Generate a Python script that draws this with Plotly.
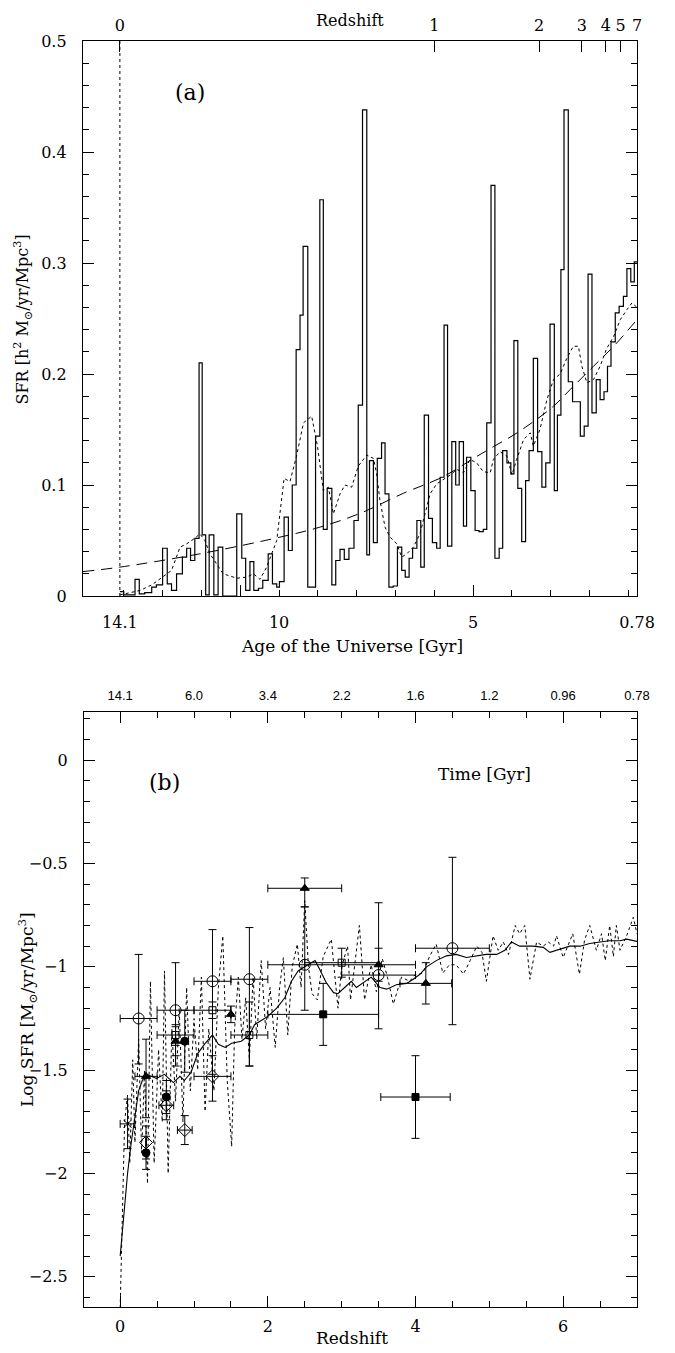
import plotly.graph_objects as go

# page is 675x1353; the browser body adds an 8 px margin, so the figure is 8 px smaller
PAGE_W, PAGE_H = 675, 1353
OFF = 8
W, H = PAGE_W - OFF, PAGE_H - OFF
SERIF = "DejaVu Serif"
SANS = "Liberation Sans"

# ---------------- Panel (a) data ----------------
now_age = 14.1
age_range = [15.05, 0.78]

hist_age_edges = [14.10, 14.00, 13.71, 13.60, 13.46, 13.28, 13.16, 13.00, 12.88, 12.77,
                  12.64, 12.49, 12.38, 12.28, 12.17, 12.06, 11.98, 11.89, 11.80, 11.68,
                  11.57, 11.45, 11.09, 10.96, 10.86, 10.75, 10.65, 10.53, 10.42, 10.28,
                  10.17, 10.06, 9.99, 9.87, 9.76, 9.66, 9.56, 9.46, 9.38, 9.26,
                  9.06, 8.95, 8.86, 8.76, 8.64, 8.54, 8.43, 8.32, 8.20, 8.07,
                  7.96, 7.85, 7.74, 7.67, 7.57, 7.47, 7.36, 7.27, 7.17, 7.06,
                  6.95, 6.84, 6.75, 6.65, 6.56, 6.45, 6.35, 6.26, 6.15, 6.05,
                  5.94, 5.85, 5.75, 5.66, 5.55, 5.45, 5.36, 5.25, 5.17, 5.06,
                  4.95, 4.85, 4.74, 4.65, 4.54, 4.44, 4.33, 4.24, 4.13, 4.03,
                  3.95, 3.85, 3.75, 3.65, 3.56, 3.45, 3.34, 3.23, 3.13, 3.02,
                  2.91, 2.83, 2.74, 2.66, 2.55, 2.44, 2.24, 2.14, 2.04, 1.94,
                  1.83, 1.73, 1.63, 1.54, 1.45, 1.34, 1.24, 1.13, 1.04, 0.94,
                  0.85, 0.78]
hist_sfr = [0.004, 0.001, 0.015, 0.002, 0.003, 0.008, 0.010, 0.043, 0.011, 0.005,
            0.020, 0.035, 0.043, 0.032, 0.052, 0.210, 0.055, 0.001, 0.055, 0.001,
            0.044, 0.000, 0.074, 0.034, 0.005, 0.031, 0.005, 0.007, 0.014, 0.038,
            0.011, 0.008, 0.013, 0.071, 0.041, 0.100, 0.222, 0.253, 0.315, 0.008,
            0.144, 0.357, 0.060, 0.097, 0.010, 0.032, 0.042, 0.033, 0.043, 0.068,
            0.172, 0.438, 0.037, 0.122, 0.048, 0.124, 0.138, 0.092, 0.008, 0.009,
            0.044, 0.023, 0.017, 0.034, 0.043, 0.068, 0.026, 0.163, 0.070, 0.048,
            0.043, 0.107, 0.244, 0.045, 0.139, 0.100, 0.139, 0.063, 0.125, 0.095,
            0.059, 0.058, 0.060, 0.156, 0.370, 0.034, 0.043, 0.131, 0.120, 0.110,
            0.230, 0.097, 0.049, 0.104, 0.131, 0.214, 0.130, 0.098, 0.120, 0.245,
            0.095, 0.163, 0.294, 0.438, 0.193, 0.175, 0.144, 0.153, 0.290, 0.165,
            0.195, 0.177, 0.184, 0.207, 0.229, 0.255, 0.261, 0.270, 0.295, 0.283,
            0.301, 0.301]

smooth_age = [14.1, 13.58, 13.28, 13.0, 12.77, 12.55, 12.38, 12.17, 12.04, 11.91,
              11.78, 11.61, 11.44, 11.09, 10.84, 10.66, 10.49, 10.32, 10.06, 9.87,
              9.72, 9.55, 9.37, 9.16, 9.01, 8.86, 8.73, 8.6, 8.43, 8.3,
              8.13, 7.96, 7.74, 7.57, 7.49, 7.4, 7.27, 7.14, 6.97, 6.84,
              6.71, 6.54, 6.37, 6.24, 6.11, 5.94, 5.77, 5.59, 5.42, 5.25,
              5.08, 4.91, 4.74, 4.56, 4.48, 4.31, 4.13, 4.0, 3.88, 3.7,
              3.53, 3.45, 3.28, 3.1, 2.93, 2.76, 2.59, 2.42, 2.29, 2.2,
              2.07, 1.9, 1.73, 1.56, 1.38, 1.21, 1.04, 0.91, 0.78]
smooth_sfr = [0.001, 0.005, 0.010, 0.017, 0.023, 0.044, 0.047, 0.052, 0.056, 0.050,
              0.038, 0.029, 0.020, 0.016, 0.017, 0.020, 0.015, 0.026, 0.050, 0.106,
              0.103, 0.126, 0.156, 0.162, 0.135, 0.095, 0.098, 0.074, 0.092, 0.100,
              0.098, 0.117, 0.127, 0.124, 0.111, 0.086, 0.062, 0.053, 0.047, 0.035,
              0.038, 0.044, 0.056, 0.074, 0.092, 0.101, 0.105, 0.109, 0.114, 0.111,
              0.123, 0.120, 0.112, 0.111, 0.123, 0.130, 0.126, 0.109, 0.123, 0.141,
              0.147, 0.135, 0.150, 0.177, 0.195, 0.200, 0.214, 0.225, 0.225, 0.207,
              0.192, 0.195, 0.207, 0.223, 0.234, 0.249, 0.258, 0.264, 0.260]

fit_age = [15.05, 14.1, 12.04, 9.98, 8.95, 7.91, 6.80, 5.77, 4.99, 4.48,
           3.96, 3.45, 2.93, 2.50, 1.90, 1.38, 0.78]
fit_sfr = [0.022, 0.026, 0.038, 0.053, 0.062, 0.0745, 0.0925, 0.1075, 0.124, 0.1345,
           0.145, 0.157, 0.171, 0.186, 0.207, 0.225, 0.249]

age_tick_labels = [14.1, 10, 5, 0.78]
age_minor_ticks = [14, 13, 12, 10, 9, 8, 7, 6, 4, 3, 2, 1]
age_major_ticks = [11, 5]
z_tick_ages = [14.1, 6.0, 3.3, 2.2, 1.58, 1.2, 0.78]
z_tick_text = ["0", "1", "2", "3", "4", "5", "7"]

# ---------------- Panel (b) data ----------------
z_range = [-0.49, 7.0]
logsfr_range = [-2.646, 0.233]

sim_raw_z = [0.0, 0.03, 0.06, 0.1, 0.13, 0.17, 0.2, 0.25, 0.29, 0.33, 0.37, 0.41, 0.46, 0.52,
             0.57, 0.6, 0.65, 0.7, 0.75, 0.8, 0.85, 0.9, 0.95, 1.0, 1.05, 1.1, 1.15, 1.2,
             1.27, 1.33, 1.39, 1.45, 1.51, 1.55, 1.6, 1.65, 1.7, 1.75, 1.8, 1.85, 1.91,
             1.97, 2.03, 2.1, 2.16, 2.21, 2.27, 2.33, 2.4, 2.45, 2.5, 2.55, 2.6, 2.67,
             2.75, 2.86, 2.95, 3.0, 3.08, 3.12, 3.24, 3.31, 3.4, 3.47, 3.55, 3.62, 3.7,
             3.81, 3.92, 3.99, 4.1, 4.19, 4.28, 4.37, 4.46, 4.55, 4.65, 4.74, 4.83, 4.9,
             4.96, 5.05, 5.12, 5.19, 5.26, 5.35, 5.41, 5.48, 5.55, 5.64, 5.73, 5.8, 5.87,
             5.91, 6.0, 6.13, 6.22, 6.29, 6.36, 6.45, 6.52, 6.57, 6.63, 6.68, 6.72, 6.77,
             6.86, 6.95, 7.0]
sim_raw_v = [-2.65, -2.2, -1.75, -1.62, -1.95, -1.45, -1.85, -1.35, -1.9, -1.5, -2.05, -1.07,
             -1.95, -1.4, -1.75, -1.02, -2.0, -1.3, -1.65, -1.2, -1.75, -1.1, -1.6, -1.25,
             -1.5, -1.05, -1.7, -1.3, -1.6, -1.1, -0.85, -1.55, -1.87, -1.3, -1.05, -1.35,
             -1.15, -1.45, -1.05, -1.35, -0.97, -1.3, -1.1, -1.39, -1.1, -0.955, -1.33, -1.0,
             -0.89, -1.1, -0.68, -1.0, -1.13, -1.16, -0.95, -0.866, -1.2, -1.0, -0.9, -1.16,
             -0.80, -1.16, -0.99, -1.12, -0.96, -1.05, -1.18, -1.05, -1.07, -1.04, -1.03,
             -0.95, -0.89, -1.03, -0.99, -0.99, -1.035, -0.97, -0.9, -0.93, -1.07, -0.85,
             -0.92, -0.88, -0.94, -0.80, -0.84, -0.80, -1.06, -0.88, -0.9, -0.88, -0.9,
             -0.85, -0.955, -0.84, -1.036, -0.87, -0.80, -0.92, -0.84, -0.97, -0.80, -0.95,
             -0.80, -0.92, -0.85, -0.76, -0.84]

sim_smooth_z = [0.0, 0.05, 0.1, 0.15, 0.2, 0.25, 0.3, 0.35, 0.42, 0.49, 0.6, 0.72, 0.81, 0.87,
                0.96, 1.05, 1.14, 1.25, 1.33, 1.42, 1.51, 1.64, 1.75, 1.82, 1.91, 2.0, 2.12,
                2.23, 2.32, 2.41, 2.52, 2.64, 2.7, 2.79, 2.89, 2.95, 3.04, 3.13, 3.2, 3.29,
                3.4, 3.52, 3.61, 3.74, 3.88, 3.97, 4.06, 4.15, 4.28, 4.42, 4.55, 4.69, 4.82,
                4.96, 5.1, 5.21, 5.3, 5.41, 5.59, 5.73, 5.82, 5.96, 6.09, 6.23, 6.36, 6.5,
                6.63, 6.77, 6.86, 7.0]
sim_smooth_v = [-2.4, -2.2, -2.0, -1.85, -1.72, -1.6, -1.55, -1.52, -1.53, -1.54, -1.52, -1.56,
                -1.53, -1.55, -1.51, -1.42, -1.375, -1.33, -1.375, -1.39, -1.37, -1.36, -1.33,
                -1.28, -1.26, -1.24, -1.2, -1.15, -1.07, -1.02, -0.995, -0.97, -1.01, -1.076,
                -1.125, -1.13, -1.1, -1.07, -1.1, -1.076, -1.05, -1.1, -1.108, -1.087, -1.08,
                -1.06, -1.036, -1.0, -0.97, -0.947, -0.94, -0.955, -0.947, -0.94, -0.94, -0.92,
                -0.88, -0.9, -0.9, -0.906, -0.93, -0.914, -0.9, -0.9, -0.887, -0.88, -0.874,
                -0.874, -0.866, -0.877]

# observational points: z, logSFR, +err, -err, z-halfwidth
circ_z = [0.25, 0.75, 1.25, 1.75, 2.5, 3.5, 4.5]
circ_v = [-1.25, -1.21, -1.07, -1.06, -0.99, -1.04, -0.91]
circ_up = [0.31, 0.23, 0.25, 0.25, 0.28, 0.35, 0.44]
circ_dn = [0.22, 0.27, 0.45, 0.42, 0.22, 0.26, 0.37]
circ_dz = [0.25, 0.25, 0.25, 0.25, 0.5, 0.5, 0.5]

tri_z = [0.35, 0.75, 1.5, 2.5, 3.5, 4.14]
tri_v = [-1.53, -1.36, -1.23, -0.62, -0.99, -1.08]
tri_up = [0.18, 0.07, 0.04, 0.05, 0.08, 0.10]
tri_dn = [0.2, 0.07, 0.04, 0.09, 0.08, 0.10]
tri_dz = [0.15, 0.0, 0.0, 0.5, 0.5, 0.35]

osq_z = [0.75, 1.25, 1.75, 3.0]
osq_v = [-1.33, -1.21, -1.33, -0.98]
osq_up = [0.05, 0.04, 0.16, 0.07]
osq_dn = [0.05, 0.04, 0.15, 0.07]
osq_dz = [0.25, 0.25, 0.25, 0.5]

fsq_z = [2.75, 4.0]
fsq_v = [-1.23, -1.63]
fsq_up = [0.15, 0.2]
fsq_dn = [0.15, 0.2]
fsq_dz = [0.75, 0.47]

fcirc_z = [0.35, 0.625, 0.875]
fcirc_v = [-1.90, -1.63, -1.36]
fcirc_up = [0.08, 0.08, 0.15]
fcirc_dn = [0.08, 0.08, 0.15]

dia_z = [0.35, 0.625, 0.875, 1.25]
dia_v = [-1.85, -1.67, -1.79, -1.53]
dia_up = [0.08, 0.07, 0.07, 0.10]
dia_dn = [0.08, 0.07, 0.07, 0.12]
dia_dz = [0.0, 0.1, 0.1, 0.25]

cross_z = [0.1]
cross_v = [-1.76]
cross_up = [0.12]
cross_dn = [0.12]
cross_dz = [0.1]

time_tick_z = [0, 1, 2, 3, 4, 5, 6, 7]
time_tick_text = ["14.1", "6.0", "3.4", "2.2", "1.6", "1.2", "0.96", "0.78"]

# ---------------- layout geometry (page pixels -> paper fractions) ----------------
def fx(px):
    return (px - OFF) / W

def fy(py):
    return 1 - (py - OFF) / H

A_X = [fx(83), fx(637)]
A_Y = [fy(596), fy(41)]
B_X = [fx(84), fx(637)]
B_Y = [fy(1307), fy(712)]

fig = go.Figure()
K = "black"

# Panel (a)
fig.add_trace(go.Scatter(x=[now_age, now_age], y=[0, 0.5], mode="lines",
                         line=dict(color=K, width=1, dash="dot"), xaxis="x", yaxis="y"))
fig.add_trace(go.Scatter(x=fit_age, y=fit_sfr, mode="lines", line_shape="spline",
                         line=dict(color=K, width=1, dash="11px,7px"), xaxis="x", yaxis="y"))
fig.add_trace(go.Scatter(x=smooth_age, y=smooth_sfr, mode="lines",
                         line=dict(color=K, width=1, dash="dot"), xaxis="x", yaxis="y"))
fig.add_trace(go.Scatter(x=hist_age_edges, y=hist_sfr, mode="lines", line_shape="hv",
                         line=dict(color=K, width=1.2), xaxis="x", yaxis="y"))
# invisible anchors so the overlay axes are drawn
for ax in ["x2", "x3", "x4"]:
    fig.add_trace(go.Scatter(x=[now_age], y=[0], mode="markers", marker=dict(opacity=0),
                             hoverinfo="skip", xaxis=ax, yaxis="y"))

# Panel (b)
fig.add_trace(go.Scatter(x=sim_raw_z, y=sim_raw_v, mode="lines",
                         line=dict(color=K, width=1, dash="dot"), xaxis="x5", yaxis="y2"))
fig.add_trace(go.Scatter(x=sim_smooth_z, y=sim_smooth_v, mode="lines",
                         line=dict(color=K, width=1.1), xaxis="x5", yaxis="y2"))


def pts(z, v, up, dn, dz, symbol, size):
    ex = dict(type="data", array=dz, color=K, thickness=1, width=4) if dz is not None else None
    fig.add_trace(go.Scatter(
        x=z, y=v, mode="markers",
        marker=dict(symbol=symbol, size=size, color=K, line=dict(color=K, width=1)),
        error_y=dict(type="data", symmetric=False, array=up, arrayminus=dn,
                     color=K, thickness=1, width=4),
        error_x=ex, xaxis="x5", yaxis="y2"))


pts(circ_z, circ_v, circ_up, circ_dn, circ_dz, "circle-open", 11)
pts(tri_z, tri_v, tri_up, tri_dn, tri_dz, "triangle-up", 8)
pts(osq_z, osq_v, osq_up, osq_dn, osq_dz, "square-open", 7)
pts(fsq_z, fsq_v, fsq_up, fsq_dn, fsq_dz, "square", 7)
pts(fcirc_z, fcirc_v, fcirc_up, fcirc_dn, None, "circle", 8)
pts(dia_z, dia_v, dia_up, dia_dn, dia_dz, "diamond-open", 10)
pts(cross_z, cross_v, cross_up, cross_dn, cross_dz, "x-thin-open", 8)
fig.add_trace(go.Scatter(x=[0], y=[0], mode="markers", marker=dict(opacity=0),
                         hoverinfo="skip", xaxis="x6", yaxis="y2"))

tickfont = dict(family=SERIF, size=16, color=K)
common = dict(showgrid=False, zeroline=False, color=K, linecolor=K, linewidth=1.3,
              tickcolor=K, tickwidth=1, automargin=False)

fig.update_layout(
    width=W, height=H, margin=dict(l=0, r=0, t=0, b=0, autoexpand=False),
    paper_bgcolor="white", plot_bgcolor="white", showlegend=False,
    xaxis=dict(domain=A_X, range=age_range, anchor="y", tickmode="array",
               tickvals=age_tick_labels, ticktext=["14.1", "10", "5", "0.78"],
               ticks="", showline=True, tickfont=tickfont, ticklabelstandoff=12, **common),
    xaxis3=dict(range=age_range, overlaying="x", anchor="y", side="bottom",
                tickmode="array", tickvals=age_minor_ticks, ticks="inside", ticklen=6,
                showticklabels=False, showline=False, **common),
    xaxis4=dict(range=age_range, overlaying="x", anchor="y", side="bottom",
                tickmode="array", tickvals=age_major_ticks, ticks="inside", ticklen=11,
                showticklabels=False, showline=False, **common),
    xaxis2=dict(range=age_range, overlaying="x", anchor="y", side="top",
                tickmode="array", tickvals=z_tick_ages, ticktext=z_tick_text,
                ticks="inside", ticklen=11, showline=True, tickfont=tickfont,
                ticklabelstandoff=2, **common),
    yaxis=dict(domain=A_Y, range=[0, 0.5], anchor="x", tickmode="array",
               tickvals=[0, 0.1, 0.2, 0.3, 0.4, 0.5],
               ticktext=["0", "0.1", "0.2", "0.3", "0.4", "0.5"],
               ticks="inside", ticklen=11, mirror="ticks", showline=True,
               minor=dict(ticks="inside", ticklen=6, tick0=0, dtick=0.02, tickcolor=K),
               tickfont=tickfont, ticklabelstandoff=12, **common),
    xaxis5=dict(domain=B_X, range=z_range, anchor="y2", tickmode="array",
                tickvals=[0, 2, 4, 6], ticks="inside", ticklen=11, mirror="ticks",
                showline=True, minor=dict(ticks="inside", ticklen=6, tick0=0, dtick=0.5,
                                          tickcolor=K),
                tickfont=tickfont, ticklabelstandoff=5, **common),
    xaxis6=dict(range=z_range, overlaying="x5", anchor="y2", side="top",
                tickmode="array", tickvals=time_tick_z, ticktext=time_tick_text,
                ticks="", showline=False, ticklabelstandoff=8,
                tickfont=dict(family=SANS, size=13, color=K), **common),
    yaxis2=dict(domain=B_Y, range=logsfr_range, anchor="x5", tickmode="array",
                tickvals=[0, -0.5, -1, -1.5, -2, -2.5],
                ticktext=["0", "\u22120.5", "\u22121", "\u22121.5", "\u22122", "\u22122.5"],
                ticks="inside", ticklen=11, mirror="ticks", showline=True,
                minor=dict(ticks="inside", ticklen=6, tick0=0, dtick=0.1, tickcolor=K),
                tickfont=tickfont, ticklabelstandoff=12, **common),
)

tfont = dict(family=SERIF, size=17, color=K)
ann = [
    dict(text="Redshift", x=fx(350), y=fy(9), xref="paper", yref="paper", showarrow=False,
         font=dict(family=SERIF, size=16, color=K), xanchor="center", yanchor="top"),
    dict(text="Age of the Universe [Gyr]", x=fx(352), y=fy(646), xref="paper", yref="paper",
         showarrow=False, font=tfont, xanchor="center", yanchor="middle"),
    dict(text="SFR [h<sup>2</sup> M<sub>\u2299</sub>/yr/Mpc<sup>3</sup>]", x=fx(9), y=fy(320),
         xref="paper", yref="paper", showarrow=False, font=dict(family=SERIF, size=16, color=K),
         textangle=-90, xanchor="left", yanchor="middle"),
    dict(text="Redshift", x=fx(352), y=fy(1338), xref="paper", yref="paper", showarrow=False,
         font=tfont, xanchor="center", yanchor="middle"),
    dict(text="Log SFR [M<sub>\u2299</sub>/yr/Mpc<sup>3</sup>]", x=fx(27), y=fy(1010),
         xref="paper", yref="paper", showarrow=False, font=tfont, textangle=-90,
         xanchor="center", yanchor="middle"),
    dict(text="(a)", x=12.3, y=0.454, xref="x", yref="y", showarrow=False,
         font=dict(family=SERIF, size=22, color=K)),
    dict(text="(b)", x=0.6, y=-0.11, xref="x5", yref="y2", showarrow=False,
         font=dict(family=SERIF, size=22, color=K)),
    dict(text="Time [Gyr]", x=4.94, y=-0.065, xref="x5", yref="y2", showarrow=False,
         font=tfont),
]
fig.update_layout(annotations=ann)

fig.write_html("out.html")
